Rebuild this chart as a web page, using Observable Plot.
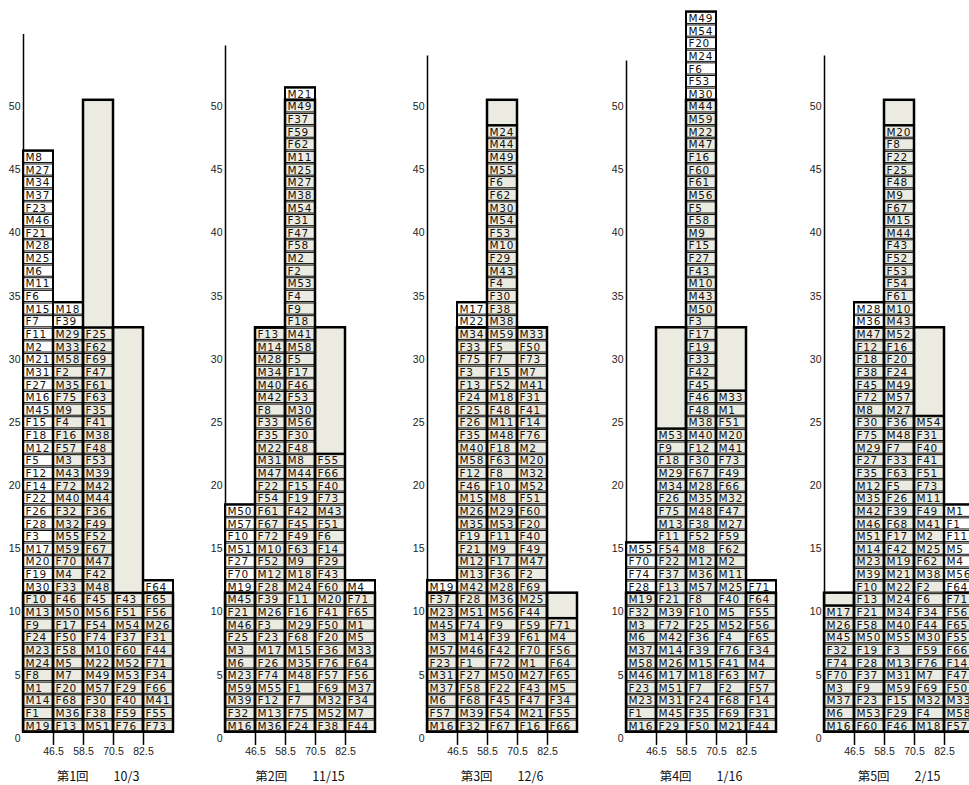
<!DOCTYPE html>
<html><head><meta charset="utf-8">
<script src="https://cdn.jsdelivr.net/npm/d3@7"></script>
<script src="https://cdn.jsdelivr.net/npm/@observablehq/plot@0.6"></script>
<style>
body{margin:0;background:#fff;overflow:hidden;width:969px;height:785px;position:relative}
.panel{position:absolute;top:0;width:200px;height:785px}
.title{position:absolute;top:769px;left:24px;width:150px;text-align:center;font:12.5px "Noto Sans CJK JP";color:#111;white-space:pre;line-height:14px}
g[aria-label="text"] text{letter-spacing:0.7px}
</style></head><body><div id="root"></div>
<script>
// bin edges of the histogram columns
const bins = [34.5, 46.5, 58.5, 70.5, 82.5, 94.5];
// target (shaded) distribution per column
const target = [11, 32, 50, 32, 11];
const xTicks = [46.5, 58.5, 70.5, 82.5];
const yTicks = [0, 5, 10, 15, 20, 25, 30, 35, 40, 45, 50];
const titles = ["第1回\u3000\u300010/3", "第2回\u3000\u300011/15", "第3回\u3000\u300012/6", "第4回\u3000\u30001/16", "第5回\u3000\u30002/15"];
const axisTops = [55.7, 54.8, 54, 53.6, 54];

// each session: five columns, labels listed from bottom to top
const session1 = [
  ["M19","F1","M14","M1","F8","M24","M23","F24","F9","M13","F10","M30","F19","M20","M17","F3","F28","F26","F22","F14","F12","F5","M12","F18","F15","M45","M16","F27","M31","M21","M2","F11","F7","M15","F6","M11","M6","M25","M28","F21","M46","F23","M37","M34","M27","M8"],
  ["F13","M36","F68","F20","M7","M5","F58","F50","F17","M50","F46","F33","M4","F70","M59","M55","M32","F32","M40","F72","M43","M3","F57","F16","F4","M9","F75","M35","F2","M58","M33","M29","F39","M18"],
  ["M51","F38","F30","M57","M49","M22","M10","F74","F54","M56","F45","M48","F42","M47","F67","F52","F49","F36","M44","M42","M39","F53","F48","M38","F41","F35","F63","F61","F47","F69","F62","F25"],
  ["F76","F59","F40","F29","M53","M52","F60","F37","M54","F51","F43"],
  ["F73","F55","M41","F66","F34","F71","F44","F31","M26","F56","F65","F64"]
];
const session2 = [
  ["M16","F32","M39","M59","M23","M6","M3","F25","M46","F21","M45","M19","F70","F27","M51","F10","M57","M50"],
  ["M36","M13","F12","M55","F74","F26","M17","F23","F3","M26","F39","F28","M12","F52","M10","F72","F67","F61","F54","F22","M47","M31","M22","F35","F33","F8","M42","M40","M34","M28","M14","F13"],
  ["F24","F75","F7","F1","M48","M35","M15","F68","M29","F16","F11","M24","M18","M9","F63","F49","F45","F42","F19","F15","M44","M8","F48","F30","M56","M30","F53","F46","F17","F5","M58","M41","F18","F9","F4","M53","F2","M2","F58","F47","F31","M54","M38","M27","M25","M11","F62","F59","F37","M49","M21"],
  ["F38","M52","M32","F69","F57","F76","F36","F20","F50","F41","M20","F60","F43","F29","F14","F6","F51","M43","F73","F40","F66","F55"],
  ["F44","M7","F34","M37","F56","F64","M33","M5","M1","F65","F71","M4"]
];
const session3 = [
  ["M16","F57","M6","M37","M31","F23","M57","M3","M45","M23","F37","M19"],
  ["F32","M39","F68","F58","F27","F1","M46","M14","F74","M51","F28","M42","M13","M12","F21","F19","M35","M26","M15","F46","F12","M58","M40","F35","F26","F25","F24","F13","F3","F75","F33","M34","M22","M17"],
  ["F67","F54","F45","F22","M50","F72","F42","F39","F9","M56","M36","M28","F36","F17","M9","F11","M53","M29","M8","F10","F8","F63","F18","M48","M11","F48","M18","F52","F15","F7","F5","M59","M38","F38","F30","F4","M43","F29","M10","F53","M54","M30","F62","F6","M55","M49","M44","M24"],
  ["F16","M21","F47","F43","M27","M1","F70","F61","F59","F44","M25","F69","F2","M47","F49","F40","F20","F60","F51","M52","M32","M20","M2","F76","F14","F41","F31","M41","M7","F73","F50","M33"],
  ["F66","F55","F34","M5","F65","F64","F56","M4","F71"]
];
const session4 = [
  ["M16","F1","M23","F23","M46","M58","M37","M6","M3","F32","M19","F28","F74","F70","M55"],
  ["F29","M45","M31","M51","M17","M26","M14","M42","F72","M39","F21","F13","F37","F22","F54","F11","M13","F75","F26","M34","M29","F18","F9","M53"],
  ["F50","F35","F24","F7","M18","M15","F39","F36","F25","F10","F8","M57","M36","M12","M8","F52","F38","M48","M35","M28","F67","F30","F12","M40","M38","F48","F46","F45","F42","F33","F19","F17","F3","M50","M43","M10","F43","F27","F15","M9","F58","F5","M56","F61","F60","F16","M47","M22","M59","M44","M30","F53","F6","M24","F20","M54","M49"],
  ["M21","F69","F68","F2","F63","F41","F76","F4","M52","M5","F40","M25","M11","M2","F62","F59","M27","F47","M32","F66","F49","F73","M41","M20","F51","M1","M33"],
  ["F44","F31","F14","F57","M7","M4","F34","F65","F56","F55","F64","F71"]
];
const session5 = [
  ["M16","M6","M37","M3","F70","F74","F32","M45","M26","M17"],
  ["F60","M53","F23","F9","F37","F28","F19","M50","F58","F21","F13","F10","M39","M23","M14","M51","M46","M42","M35","M12","F35","F27","M29","F75","F30","M8","F72","F45","F38","F18","F12","M47","M36","M28"],
  ["F46","F29","F15","M59","M31","M13","F3","M55","M40","M34","M24","M22","M21","M19","F42","F17","F68","F39","F26","F5","F63","F33","F7","M48","F36","M27","M57","M49","F24","F20","F16","M52","M43","M10","F61","F54","F53","F52","F43","M44","M15","F67","M9","F48","F25","F22","F8","M20"],
  ["M18","F4","M32","F69","M7","F76","F59","M30","F44","F34","F6","F2","M38","F62","M25","M2","M41","F49","M11","F73","F51","F41","F40","F31","M54"],
  ["F57","M58","M33","F50","F47","F14","F66","F55","F65","F56","F71","F64","M56","M4","M5","F11","F1","M1"]
];
const sessions = [session1, session2, session3, session4, session5];
const panelLefts = [-1, 201, 403, 602, 800];

const root = document.getElementById("root");
sessions.forEach((cols, p) => {
  const cells = [];
  cols.forEach((col, j) => col.forEach((label, i) =>
    cells.push({x1: bins[j], x2: bins[j + 1], y1: i + 0.5, y2: i + 1.5, label})));
  const stacks = cols.map((col, j) => ({x1: bins[j], x2: bins[j + 1], y1: 0.5, y2: col.length + 0.5}));
  const shape = target.map((t, j) => ({x1: bins[j], x2: bins[j + 1], y1: 0.5, y2: t + 0.5}));
  const chart = Plot.plot({
    width: 200, height: 760,
    marginLeft: 24, marginRight: 26, marginTop: 5, marginBottom: 22,
    x: {domain: [34.5, 94.5]},
    y: {domain: [0, 58]},
    style: {fontFamily: "Liberation Sans, Arial, sans-serif", fontSize: "10.5px", color: "#222", background: "transparent", overflow: "visible"},
    marks: [
      Plot.rect(shape, {x1: "x1", x2: "x2", y1: "y1", y2: "y2", fill: "#ecebe1"}),
      Plot.rect(cells, {x1: "x1", x2: "x2", y1: "y1", y2: "y2", fill: "none", stroke: "#111", strokeWidth: 1, insetLeft: 0.5, insetRight: 0.5, insetTop: 1, insetBottom: 0.5}),
      Plot.rect(stacks, {x1: "x1", x2: "x2", y1: "y1", y2: "y2", fill: "none", stroke: "#000", strokeWidth: 2}),
      Plot.rect(shape, {x1: "x1", x2: "x2", y1: "y1", y2: "y2", fill: "none", stroke: "#000", strokeWidth: 2.5}),
      Plot.text(cells, {x: "x1", y: d => (d.y1 + d.y2) / 2, text: "label", textAnchor: "start", dx: 2, dy: 0.5, fontFamily: "DejaVu Sans", fontSize: 10.5, fill: "#111"}),
      Plot.ruleX([34.5], {y1: 0.5, y2: axisTops[p], stroke: "#000", strokeWidth: 1.5}),
      Plot.ruleX(xTicks, {y1: -0.55, y2: 0.5, stroke: "#000", strokeWidth: 1.5}),
      Plot.axisY({ticks: yTicks, tickSize: 0, tickPadding: 3, label: null, fontSize: 10.5}),
      Plot.axisX({ticks: xTicks, tickSize: 0, tickPadding: 9, label: null, fontSize: 10.5, tickFormat: d => d.toFixed(1)})
    ]
  });
  const panel = document.createElement("div");
  panel.className = "panel";
  panel.style.left = panelLefts[p] + "px";
  panel.appendChild(chart);
  const t = document.createElement("div");
  t.className = "title";
  t.textContent = titles[p];
  panel.appendChild(t);
  root.appendChild(panel);
});
</script>
</body></html>
